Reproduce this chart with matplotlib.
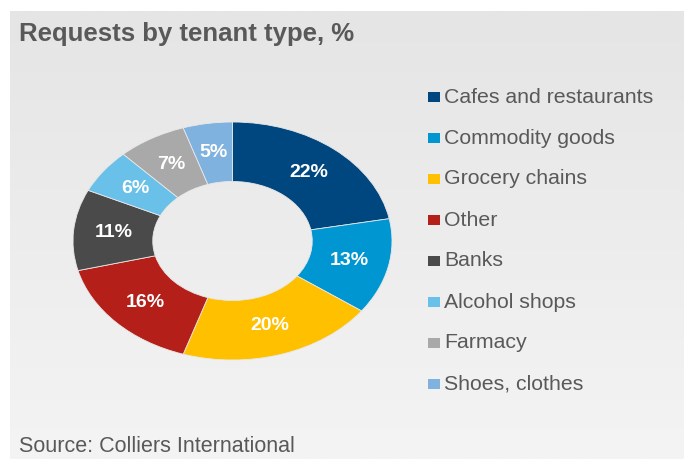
import matplotlib
matplotlib.use("Agg")
import matplotlib.pyplot as plt
import numpy as np
from matplotlib.colors import LinearSegmentedColormap
from matplotlib.patches import Rectangle

categories = ["Cafes and restaurants", "Commodity goods", "Grocery chains", "Other",
              "Banks", "Alcohol shops", "Farmacy", "Shoes, clothes"]
values = [22, 13, 20, 16, 11, 6, 7, 5]
colors = ["#00467f", "#0096d1", "#ffc000", "#b41f19", "#4a4a4a", "#69c0e8", "#a9a9a9", "#7fb2de"]
title = "Requests by tenant type, %"
source = "Source: Colliers International"

W, H = 684, 459
fig = plt.figure(figsize=(W / 100, H / 100), dpi=100, facecolor="white")
plt.rcParams['font.family'] = ['Liberation Sans', 'DejaVu Sans']

# gradient background panel
bg = fig.add_axes([10 / W, 0, 1 - 10 / W, 1 - 11 / H], zorder=0)
grad = np.linspace(0, 1, 256).reshape(-1, 1)
cmap = LinearSegmentedColormap.from_list("bg", ["#e5e5e5", "#f4f4f4"])
bg.imshow(grad, aspect="auto", cmap=cmap, extent=[0, 1, 0, 1], origin="upper")
bg.set_axis_off()

# donut (elliptical, as in reference)
ax = fig.add_axes([73 / W, 1 - 360 / H, 319 / W, 238 / H], zorder=1)
ax.patch.set_visible(False)
wedges, texts, autotexts = ax.pie(
    values, colors=colors, startangle=90, counterclock=False,
    wedgeprops=dict(width=0.5, edgecolor="#e8e8e8", linewidth=0.6),
    autopct=lambda p: f"{p:.0f}%", pctdistance=0.75,
    textprops=dict(color="white", fontsize=14, fontweight="bold"))
ax.set_aspect("auto")
ax.set_xlim(-1, 1)
ax.set_ylim(-1, 1)
ax.set_axis_off()

fig.text(19 / W, 1 - 34 / H, title, fontsize=18.5, fontweight="bold",
         color="#595959", va="center", ha="left")
fig.text(19 / W, 1 - 446 / H, source, fontsize=15.5, color="#595959",
         va="center", ha="left")

# legend
y0, dy = 97, 41
for i, (cat, col) in enumerate(zip(categories, colors)):
    yc = y0 + i * dy
    fig.patches.append(Rectangle((428 / W, 1 - (yc + 5) / H), 12 / W, 10 / H,
                                 transform=fig.transFigure, facecolor=col,
                                 edgecolor="none", zorder=2))
    fig.text(444 / W, 1 - yc / H, cat, fontsize=15.3, color="#595959",
             va="center", ha="left", zorder=2)

fig.savefig("out.png", dpi=100, facecolor="white")
